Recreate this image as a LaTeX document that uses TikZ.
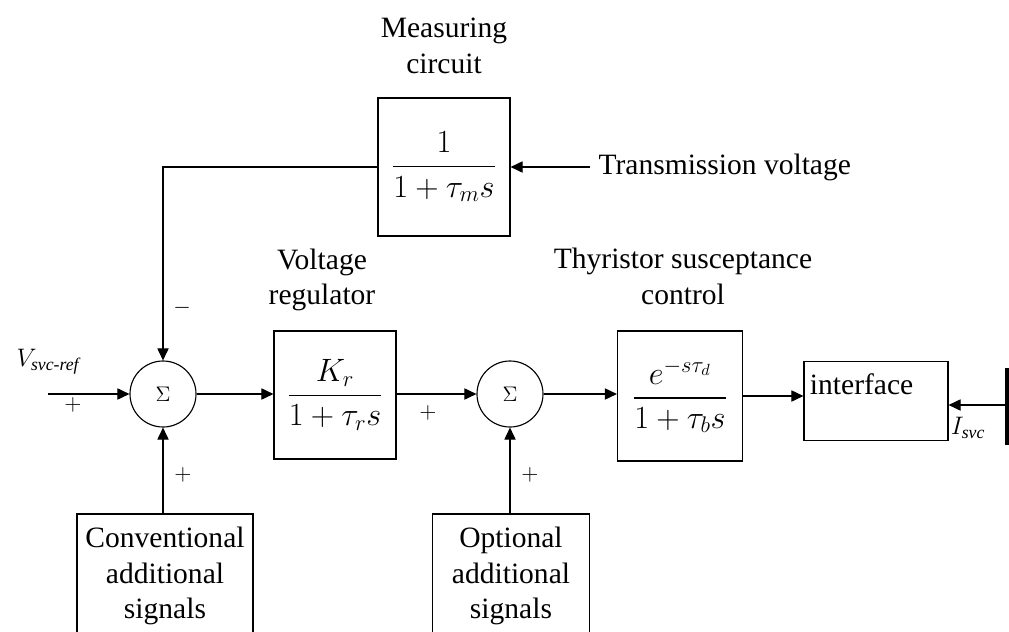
\RequirePackage{fix-cm}
\documentclass[tikz,border=0pt]{standalone}
\usepackage{amsmath}
\usepackage{fontspec}
\setmainfont{Liberation Serif}
\usetikzlibrary{arrows.meta,positioning,calc}

\begin{document}
\begin{tikzpicture}[x=0.025cm, y=-0.025cm, line width=0.8pt,
  font=\fontsize{21}{25.5}\selectfont,
  blk/.style={draw, inner sep=0pt},
  tf/.style={font=\fontsize{23}{27}\selectfont},
  sumj/.style={draw, circle, minimum size=1.65cm, inner sep=0pt, font=\fontsize{15}{17}\selectfont},
  sgn/.style={inner sep=0pt, font=\fontsize{16}{18}\selectfont},
  sig/.style={-{Triangle[length=3mm,width=2.8mm]}}]
\clip (0,0) rectangle (1009,632);
% forward path
\node[sumj] (s1) at (163,394) {$\Sigma$};
\node[blk, tf, minimum width=3.05cm, minimum height=3.2cm] (vr) at (335,395) {$\dfrac{K_r}{1+\tau_r s}$};
\node[sumj] (s2) at (510,394) {$\Sigma$};
\node[blk, tf, minimum width=3.125cm, minimum height=3.25cm] (thy) at (680,396) {$\dfrac{e^{-s\tau_d}}{1+\tau_b s}$};
\node[blk, minimum width=3.6cm, minimum height=1.975cm] (intf) at (876,401) {};
\node[anchor=west, inner sep=0pt] (intftxt) at ($(intf.north west)+(6,23)$) {interface};
% measuring loop
\node[blk, tf, minimum width=3.3cm, minimum height=3.45cm] (meas) at (444,167) {$\dfrac{1}{1+\tau_m s}$};
\node[anchor=west, inner xsep=5.7pt, inner ysep=0pt] (tv) at (590,167) {Transmission voltage};
% extra inputs
\node[blk, minimum width=4.4cm, minimum height=3.1cm, align=center] (conv) at (165,576) {Conventional\\additional\\signals};
\node[blk, minimum width=3.925cm, minimum height=3.1cm, align=center] (opt) at (511,576) {Optional\\additional\\signals};
% titles
\node[align=center] (tmeas) at (444,46) {Measuring\\circuit};
\node[align=center] (tvr) at (322,280) {Voltage\\regulator};
\node[align=center] (tthy) at (683,276) {Thyristor susceptance\\control};
% signals
\coordinate (vin) at (48,394);
\coordinate (bus) at (1007,405);
\node[font=\fontsize{18}{20}\selectfont] (vref) at (48,362) {$V_{\textit{svc-ref}}$};
\node[font=\fontsize{18}{20}\selectfont] (isvc) at (968,428) {$I_{\textit{svc}}$};
\draw[line width=2.2pt] (1007,368) -- (1007,445);
\draw[sig] (vin) -- (s1);
\draw[sig] (s1) -- (vr.west |- s1);
\draw[sig] (vr.east |- s2) -- (s2);
\draw[sig] (s2) -- (thy.west |- s2);
\draw[sig] (thy.east) -- (thy.east -| intf.west);
\draw[sig] (bus) -- (bus -| intf.east);
\draw[sig] (meas.west) -| (s1.north);
\draw[sig] (tv.west) -- (meas.east);
\draw[sig] (s1.south |- conv.north) -- (s1.south);
\draw[sig] (s2.south |- opt.north) -- (s2.south);
% signs
\node[sgn] at (73,405) {$+$};
\node[sgn] at (182,308) {$-$};
\node[sgn] at (183,475) {$+$};
\node[sgn] at (428,413) {$+$};
\node[sgn] at (530,475) {$+$};
\end{tikzpicture}
\end{document}
